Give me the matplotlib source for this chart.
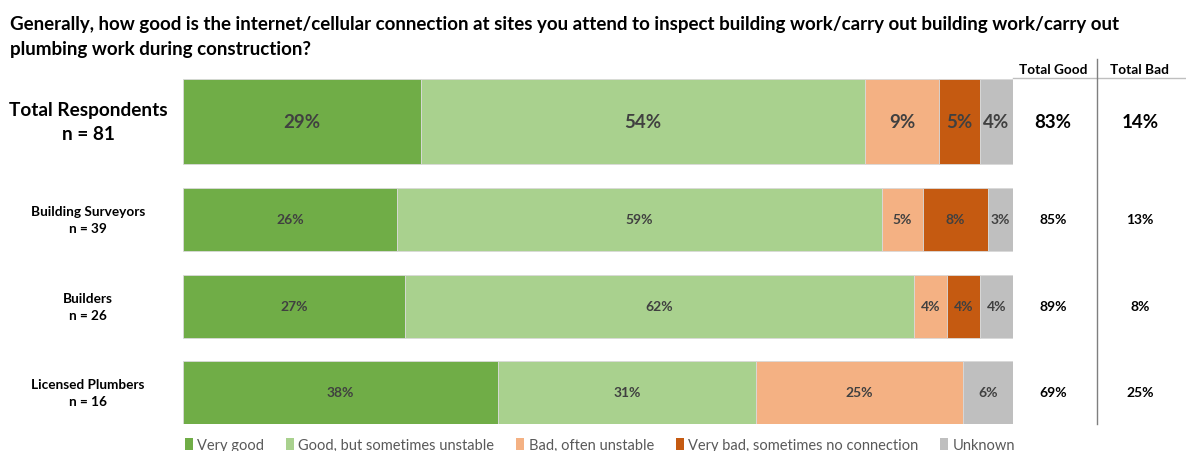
import matplotlib
matplotlib.use("Agg")
import matplotlib.pyplot as plt
from matplotlib.patches import Patch
import numpy as np

plt.rcParams['font.family'] = ['Lato', 'DejaVu Sans']

title = ("Generally, how good is the internet/cellular connection at sites you attend to inspect building work/carry out building work/carry out\n"
         "plumbing work during construction?")
groups = ["Total Respondents\nn = 81", "Building Surveyors\nn = 39", "Builders\nn = 26", "Licensed Plumbers\nn = 16"]
categories = ["Very good", "Good, but sometimes unstable", "Bad, often unstable",
              "Very bad, sometimes no connection", "Unknown"]
very_good = [29, 26, 27, 38]
good_unstable = [54, 59, 62, 31]
bad_unstable = [9, 5, 4, 25]
very_bad = [5, 8, 4, 0]
unknown = [4, 3, 4, 6]
total_good = [83, 85, 89, 69]
total_bad = [14, 13, 8, 25]

colors = ["#70AD47", "#A9D18E", "#F4B183", "#C55A11", "#BFBFBF"]

W, H = 1186, 452
fig = plt.figure(figsize=(W / 100, H / 100), dpi=100)

# layout (pixels)
ax_left, ax_right, ax_top, ax_bot = 183, 1013, 80, 425
row_centers = [122.5, 220.5, 307.5, 393.5]
row_heights = [85, 63, 63, 63]

ax = fig.add_axes([ax_left / W, 1 - ax_bot / H, (ax_right - ax_left) / W, (ax_bot - ax_top) / H])
ax.set_xlim(0, 100)
ax.set_ylim(ax_bot, ax_top)
ax.axis('off')

series = np.array([very_good, good_unstable, bad_unstable, very_bad, unknown], dtype=float)
totals = series.sum(axis=0)
norm = series / totals * 100
left = np.zeros(len(groups))
for i, cat in enumerate(categories):
    ax.barh(row_centers, norm[i], left=left, height=row_heights, color=colors[i],
            edgecolor="#D9D9D9", linewidth=0.6, label=cat)
    for r in range(len(groups)):
        if series[i, r] > 0:
            fs = 13.5 if r == 0 else 10
            ax.text(left[r] + norm[i, r] / 2, row_centers[r], f"{int(series[i, r])}%",
                    ha='center', va='center', fontsize=fs, fontweight='bold', color="#404040")
    left += norm[i]

# overlay axes in pixel coordinates for text/lines
ov = fig.add_axes([0, 0, 1, 1])
ov.set_xlim(0, W)
ov.set_ylim(H, 0)
ov.axis('off')

ov.text(10, 37, title, ha='left', va='center', fontsize=13.5, fontweight='bold',
        color='black', linespacing=1.55)

for r, g in enumerate(groups):
    fs = 13.7 if r == 0 else 9.8
    ov.text(88, row_centers[r], g, ha='center', va='center', fontsize=fs,
            fontweight='bold', linespacing=1.5)
    fs2 = 13.5 if r == 0 else 10
    ov.text(1053, row_centers[r], f"{total_good[r]}%", ha='center', va='center',
            fontsize=fs2, fontweight='bold')
    ov.text(1140, row_centers[r], f"{total_bad[r]}%", ha='center', va='center',
            fontsize=fs2, fontweight='bold')

ov.text(1053, 70, "Total Good", ha='center', va='center', fontsize=9.8, fontweight='bold')
ov.text(1140, 70, "Total Bad", ha='center', va='center', fontsize=9.8, fontweight='bold')
ov.plot([1013, 1186], [79, 79], color='#BFBFBF', lw=1)
ov.plot([1097, 1097], [60, 425], color='#7F7F7F', lw=1)

handles = [Patch(facecolor=c, edgecolor='none') for c in colors]
fig.legend(handles, categories, loc='center', bbox_to_anchor=(600 / W, 1 - 446 / H),
           ncol=5, frameon=False, fontsize=10.5, handlelength=0.55, handleheight=0.9,
           handletextpad=0.3, columnspacing=1.5, labelcolor='#595959')

fig.savefig("out.png", dpi=100)
